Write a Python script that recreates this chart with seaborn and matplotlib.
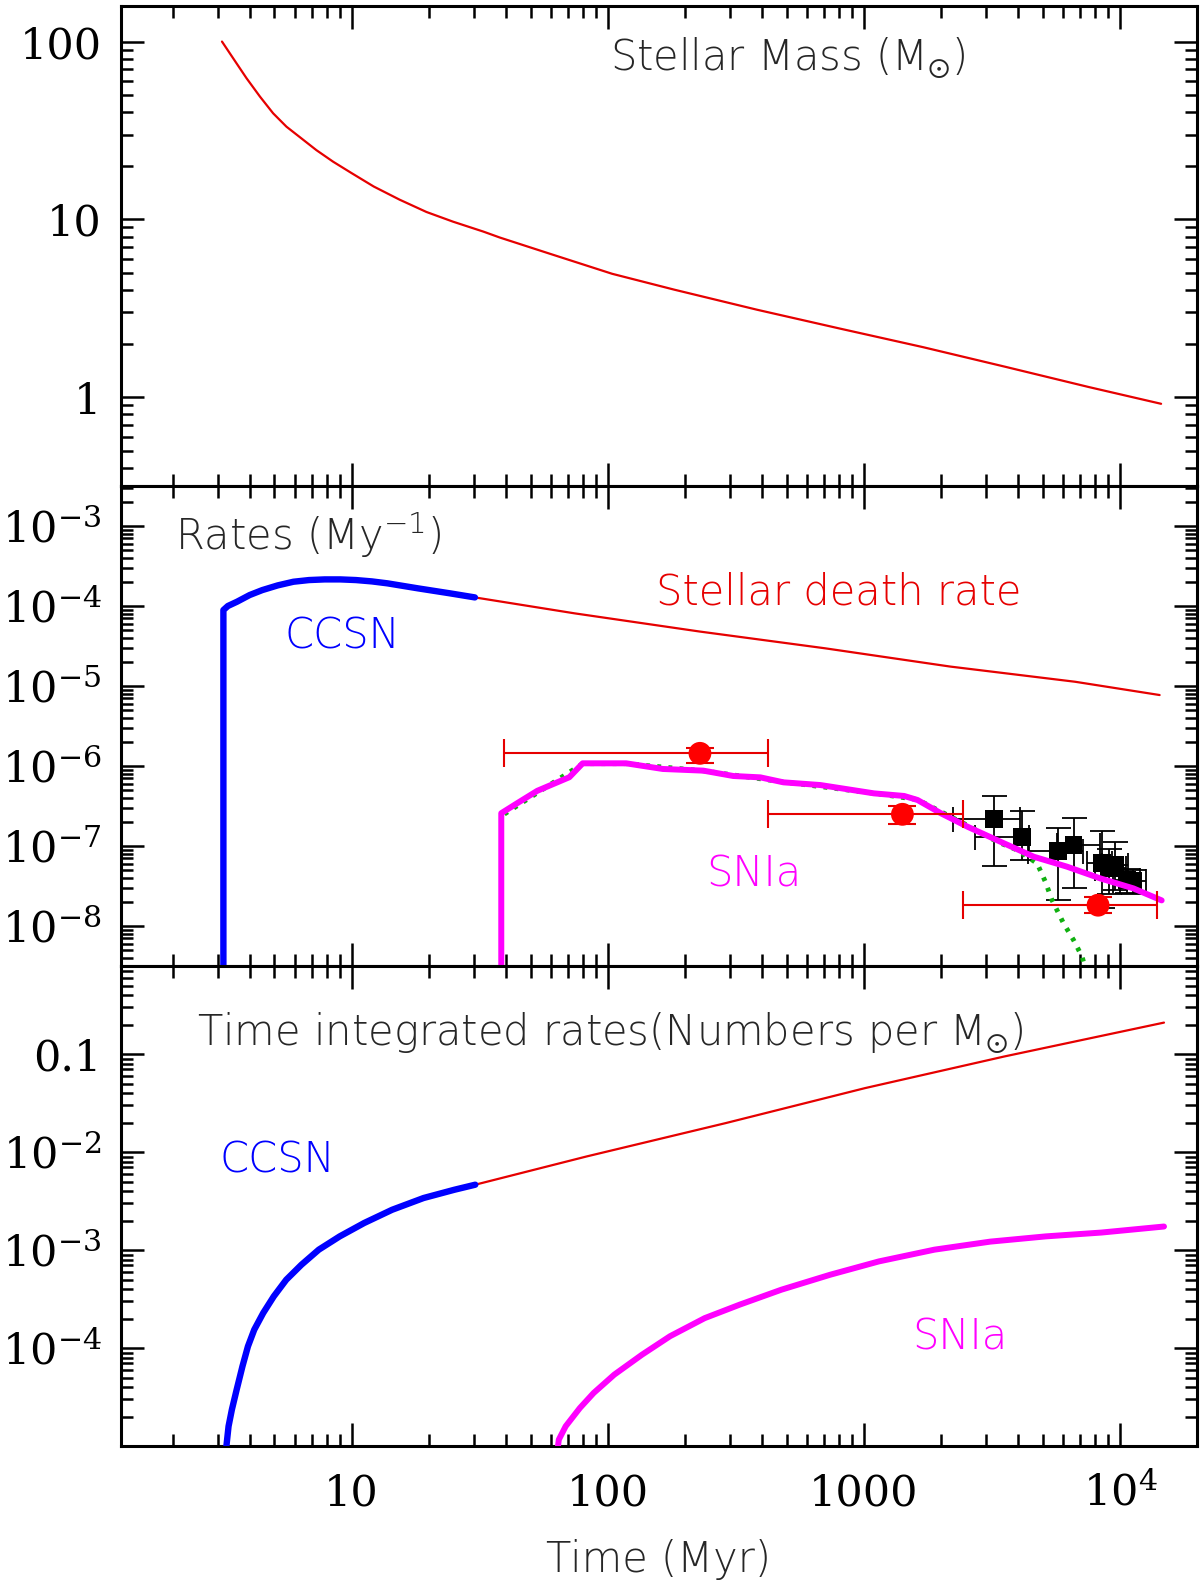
import numpy as np
import pandas as pd
import matplotlib
matplotlib.use("Agg")
import matplotlib.pyplot as plt
import seaborn as sns
from matplotlib.ticker import LogLocator, NullFormatter

# ---------------- data ----------------
# top panel: stellar mass vs time
mass_t = [3.12, 3.45, 3.89, 4.39, 4.94, 5.57, 6.28, 7.29, 8.47, 10.0, 12.2, 15.4, 19.6, 24.9, 32.7, 37.9,
          59.3, 104, 182, 383, 805, 1700, 3570, 7530, 14450]
mass_m = [100, 80.5, 62.2, 49.0, 39.5, 33.2, 29.0, 24.5, 21.1, 18.2, 15.3, 12.9, 11.0, 9.70, 8.53, 7.90,
          6.41, 4.94, 4.02, 3.10, 2.43, 1.91, 1.48, 1.14, 0.917]

# middle panel: rates (per Myr)
ccsn_t = [3.16, 3.16, 3.29, 3.57, 4.00, 4.48, 5.15, 5.93, 6.82, 7.85, 9.04, 10.4, 12.0, 13.8, 18.2, 24.2, 30.3]
ccsn_r = [1e-9, 8.9e-5, 1.0e-4, 1.13e-4, 1.37e-4, 1.58e-4, 1.81e-4, 2.01e-4, 2.11e-4, 2.15e-4, 2.15e-4,
          2.11e-4, 2.03e-4, 1.92e-4, 1.66e-4, 1.44e-4, 1.28e-4]
death_t = [30.3, 74.3, 229, 705, 2170, 6670, 14260]
death_r = [1.28e-4, 8.09e-5, 4.79e-5, 2.96e-5, 1.75e-5, 1.13e-5, 7.71e-6]
snia_t = [38.4, 38.4, 45.1, 53.1, 70.8, 79.8, 118, 164, 236, 309, 394, 485, 676, 1094, 1435, 1618, 1995,
          2529, 3412, 4603, 6209, 8356, 11272, 14521]
snia_r = [1e-9, 2.57e-7, 3.55e-7, 4.90e-7, 7.24e-7, 1.08e-6, 1.08e-6, 9.18e-7, 8.75e-7, 7.50e-7, 7.21e-7,
          6.25e-7, 5.78e-7, 4.55e-7, 4.22e-7, 3.76e-7, 2.57e-7, 1.75e-7, 1.13e-7, 7.34e-8, 5.51e-8,
          3.94e-8, 2.95e-8, 2.09e-8]
green_t = [39.5, 79.8, 118, 236, 485, 1094, 1618, 1995, 2529, 3311, 3963, 4742, 5105, 5420, 6012, 6577, 7096, 7350]
green_r = [2.51e-7, 1.07e-6, 1.07e-6, 8.71e-7, 6.31e-7, 4.57e-7, 3.80e-7, 2.69e-7, 1.82e-7, 1.13e-7,
           8.91e-8, 6.07e-8, 3.58e-8, 2.11e-8, 1.08e-8, 6.68e-9, 4.17e-9, 2.8e-9]

# observed points (red circles)
obs_t = [229, 1413, 8200]
obs_tlo = [39.5, 421, 2440]
obs_thi = [421, 2430, 13900]
obs_r = [1.44e-6, 2.49e-7, 1.82e-8]
obs_rlo = [1.10e-6, 1.88e-7, 1.45e-8]
obs_rhi = [1.69e-6, 3.16e-7, 2.29e-8]

# observed points (black squares)
sq_t = [3214, 4140, 5702, 6577, 8492, 9016, 9550, 10617, 11272]
sq_tlo = [2223, 2710, 4385, 5690, 7413, 8000, 8500, 9400, 10000]
sq_thi = [4083, 4395, 7180, 8356, 9333, 10500, 10700, 12000, 12600]
sq_r = [2.15e-7, 1.31e-7, 8.75e-8, 1.02e-7, 6.17e-8, 5.37e-8, 5.75e-8, 3.72e-8, 3.63e-8]
sq_rlo = [5.6e-8, 6.7e-8, 2.1e-8, 3.0e-8, 1.66e-8, 2.5e-8, 2.8e-8, 2.57e-8, 2.5e-8]
sq_rhi = [4.26e-7, 2.75e-7, 1.66e-7, 2.24e-7, 1.55e-7, 9.3e-8, 1.12e-7, 5.1e-8, 5.0e-8]

# bottom panel: time integrated numbers per Msun
iccsn_t = [3.24, 3.31, 3.41, 3.56, 3.75, 3.94, 4.17, 4.52, 4.97, 5.56, 6.37, 7.45, 8.99, 11.2, 14.4, 19.1, 25.2, 30.4]
iccsn_n = [9.5e-6, 1.59e-5, 2.35e-5, 3.76e-5, 6.50e-5, 1.04e-4, 1.54e-4, 2.28e-4, 3.37e-4, 4.98e-4, 7.08e-4,
           1.01e-3, 1.38e-3, 1.89e-3, 2.58e-3, 3.40e-3, 4.13e-3, 4.65e-3]
ideath_t = [30.4, 82.8, 289, 1009, 3524, 14830]
ideath_n = [4.65e-3, 9.04e-3, 1.98e-2, 4.50e-2, 9.46e-2, 0.210]
isnia_t = [63.8, 64.4, 68.5, 77.8, 88.1, 106, 136, 175, 239, 327, 476, 738, 1143, 1884, 3112, 5129, 8453, 14830]
isnia_n = [9.5e-6, 1.16e-5, 1.59e-5, 2.44e-5, 3.48e-5, 5.35e-5, 8.55e-5, 1.32e-4, 2.02e-4, 2.77e-4, 3.94e-4,
           5.60e-4, 7.66e-4, 1.01e-3, 1.22e-3, 1.38e-3, 1.51e-3, 1.74e-3]

x_ticks = [10, 100, 1000, 10000]
x_labels = ["10", "100", "1000", r"$10^{4}$"]
y1_ticks = [1, 10, 100]
y1_labels = ["1", "10", "100"]
y2_ticks = [1e-8, 1e-7, 1e-6, 1e-5, 1e-4, 1e-3]
y2_labels = [r"$10^{-8}$", r"$10^{-7}$", r"$10^{-6}$", r"$10^{-5}$", r"$10^{-4}$", r"$10^{-3}$"]
y3_ticks = [1e-4, 1e-3, 1e-2, 0.1]
y3_labels = [r"$10^{-4}$", r"$10^{-3}$", r"$10^{-2}$", "0.1"]

# ---------------- style ----------------
sns.set_style("ticks")
plt.rcParams.update({
    "font.family": ["DejaVu Sans"],
    "mathtext.fontset": "dejavuserif",
    "mathtext.default": "regular",
    "axes.linewidth": 2.2,
    "axes.edgecolor": "black",
    "xtick.direction": "in", "ytick.direction": "in",
    "xtick.top": True, "ytick.right": True,
    "xtick.major.size": 16.5, "ytick.major.size": 16.5,
    "xtick.minor.size": 8.5, "ytick.minor.size": 8.5,
    "xtick.major.width": 1.8, "ytick.major.width": 1.8,
    "xtick.minor.width": 1.8, "ytick.minor.width": 1.8,
    "xtick.color": "black", "ytick.color": "black",
})

RED = "#e60000"
BLUE = "#0000ff"
MAG = "#ff00ff"
GREEN = "#10b010"
TXT = dict(fontsize=30, fontweight=200)
TICKFONT = dict(fontfamily="DejaVu Serif", fontsize=31)

W, H = 1200, 1585
fig = plt.figure(figsize=(W / 100, H / 100), dpi=100)
left = 121 / W
width = (1197 - 121) / W
ph = 480 / H
ax1 = fig.add_axes([left, 1 - 486 / H, width, ph])
ax2 = fig.add_axes([left, 1 - 966 / H, width, ph])
ax3 = fig.add_axes([left, 1 - 1446 / H, width, ph])


def line(ax, t, v, color, lw, z=3, **kw):
    df = pd.DataFrame({"t": t, "v": v})
    sns.lineplot(data=df, x="t", y="v", ax=ax, color=color, lw=lw, estimator=None,
                 sort=False, legend=False, zorder=z, **kw)


for ax in (ax1, ax2, ax3):
    ax.set_xscale("log")
    ax.set_yscale("log")

# top panel
line(ax1, mass_t, mass_m, RED, 1.6)

# middle panel
line(ax2, death_t, death_r, RED, 1.6)
line(ax2, ccsn_t, ccsn_r, BLUE, 4.6)
ax2.errorbar(sq_t, sq_r,
             xerr=[np.array(sq_t) - np.array(sq_tlo), np.array(sq_thi) - np.array(sq_t)],
             yerr=[np.array(sq_r) - np.array(sq_rlo), np.array(sq_rhi) - np.array(sq_r)],
             fmt="none", ecolor="black", elinewidth=1.3, capsize=9, capthick=1.3, zorder=2)
sns.scatterplot(x=sq_t, y=sq_r, ax=ax2, marker="s", s=165, color="black", edgecolor="none",
                zorder=2.5, legend=False)
line(ax2, green_t, green_r, GREEN, 3.5, z=3, linestyle=(0, (0.8, 1.5)))
line(ax2, snia_t, snia_r, MAG, 4.3, z=3.5)
ax2.errorbar(obs_t, obs_r,
             xerr=[np.array(obs_t) - np.array(obs_tlo), np.array(obs_thi) - np.array(obs_t)],
             yerr=[np.array(obs_r) - np.array(obs_rlo), np.array(obs_rhi) - np.array(obs_r)],
             fmt="none", ecolor=RED, elinewidth=1.5, capsize=10, capthick=1.5, zorder=4)
sns.scatterplot(x=obs_t, y=obs_r, ax=ax2, marker="o", s=270, color="#ff0000", edgecolor="none",
                zorder=4.5, legend=False)

# bottom panel
line(ax3, ideath_t, ideath_n, RED, 1.6)
line(ax3, iccsn_t, iccsn_n, BLUE, 4.6)
line(ax3, isnia_t, isnia_n, MAG, 4.3)

for ax in (ax1, ax2, ax3):
    ax.set_xlabel("")
    ax.set_ylabel("")
    ax.xaxis.set_minor_locator(LogLocator(base=10, subs=np.arange(2, 10), numticks=100))
    ax.yaxis.set_minor_locator(LogLocator(base=10, subs=np.arange(2, 10), numticks=100))
    ax.xaxis.set_minor_formatter(NullFormatter())
    ax.yaxis.set_minor_formatter(NullFormatter())
    ax.tick_params(axis="y", which="both", pad=14)
    ax.tick_params(axis="x", which="both", pad=19)
    for s in ax.spines.values():
        s.set_linewidth(2.2)

ax1.set_yticks(y1_ticks, y1_labels, **TICKFONT)
ax2.set_yticks(y2_ticks, y2_labels, **TICKFONT)
ax3.set_yticks(y3_ticks, y3_labels, **TICKFONT)
for ax in (ax1, ax2):
    ax.set_xticks(x_ticks, [""] * len(x_ticks))
ax3.set_xticks(x_ticks, x_labels, **TICKFONT)
ax1.set_ylim(10 ** -0.5, 10 ** 2.2)
ax2.set_ylim(10 ** -8.5, 10 ** -2.5)
ax3.set_ylim(1e-5, 10 ** -0.1)
for ax in (ax1, ax2, ax3):
    ax.set_xlim(10 ** 0.1, 10 ** 4.3)

ax3.set_xlabel("Time (Myr)", labelpad=18, **TXT)

# panel texts
ax1.text(0.454, 0.866, r"Stellar Mass (M$_{\odot}$)", transform=ax1.transAxes, va="baseline", **TXT)
ax2.text(0.050, 0.867, r"Rates (My$^{-1}$)", transform=ax2.transAxes, va="baseline", **TXT)
ax2.text(0.497, 0.754, "Stellar death rate", transform=ax2.transAxes, va="baseline", color=RED, **TXT)
ax2.text(0.1515, 0.662, "CCSN", transform=ax2.transAxes, va="baseline", color=BLUE, **TXT)
ax2.text(0.544, 0.165, "SNIa", transform=ax2.transAxes, va="baseline", color=MAG, **TXT)
ax3.text(0.0707, 0.836, r"Time integrated rates(Numbers per M$_{\odot}$)", transform=ax3.transAxes,
         va="baseline", **TXT)
ax3.text(0.0914, 0.570, "CCSN", transform=ax3.transAxes, va="baseline", color=BLUE, **TXT)
ax3.text(0.735, 0.202, "SNIa", transform=ax3.transAxes, va="baseline", color=MAG, **TXT)

fig.savefig("out.png", dpi=100)
